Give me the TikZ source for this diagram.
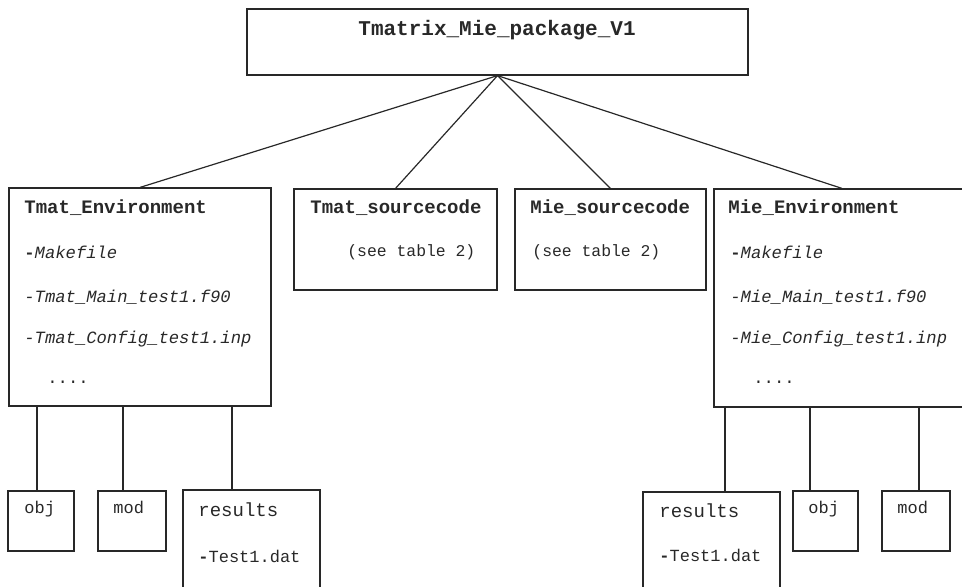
\documentclass[tikz,border=0pt]{standalone}
\usepackage{fontspec}
\setmonofont{Liberation Mono}
\usepackage{tikz}
\usetikzlibrary{fit}
\definecolor{ink}{RGB}{40,40,40}

\begin{document}
\begin{tikzpicture}[x=0.5pt,y=-0.5pt,
        box/.style={draw=ink,line width=0.6pt,inner sep=0pt},
        lbl/.style={anchor=base west,inner sep=0pt,text=ink,font=\ttfamily\fontsize{#1}{#1}\selectfont},
        hdr/.style={lbl=9.5,font=\ttfamily\bfseries\fontsize{9.5}{9.5}\selectfont},
        file/.style={lbl=8.6,font=\ttfamily\itshape\fontsize{8.6}{8.6}\selectfont},
        wire/.style={draw=ink,line width=0.6pt}]
        \clip (0,0) rectangle (962,586);
        % boxes
        \node[box,fit={(247,9) (748,75)}] (pkg) {};
        \node[box,fit={(9,188) (271,406)}] (tenv) {};
        \node[box,fit={(294,189) (497,290)}] (tsrc) {};
        \node[box,fit={(515,189) (706,290)}] (msrc) {};
        \node[box,fit={(714,189) (970,407)}] (menv) {};
        \node[box,fit={(8,491) (74,551)}] (tobj) {};
        \node[box,fit={(98,491) (166,551)}] (tmod) {};
        \node[box,fit={(183,490) (320,620)}] (tres) {};
        \node[box,fit={(643,492) (780,620)}] (mres) {};
        \node[box,fit={(793,491) (858,551)}] (mobj) {};
        \node[box,fit={(882,491) (950,551)}] (mmod) {};
        % texts
        \node[lbl=10.5,font=\ttfamily\bfseries\fontsize{10.5}{10.5}\selectfont] (pkgT) at (358,35) {Tmatrix\_Mie\_package\_V1};
        \node[hdr] (tenvT) at (24,213) {Tmat\_Environment};
        \node[file] (tenvA) at (24,258) {\upshape\bfseries-\mdseries\itshape Makefile};
        \node[file] (tenvB) at (24,302) {-Tmat\_Main\_test1.f90};
        \node[file] (tenvC) at (24,343) {-Tmat\_Config\_test1.inp};
        \node[lbl=8.6] (tenvD) at (47,383) {....};
        \node[hdr] (tsrcT) at (310,213) {Tmat\_sourcecode};
        \node[lbl=8.2] (tsrcA) at (347,256) {(see table 2)};
        \node[hdr] (msrcT) at (530,213) {Mie\_sourcecode};
        \node[lbl=8.2] (msrcA) at (532,256) {(see table 2)};
        \node[hdr] (menvT) at (728,213) {Mie\_Environment};
        \node[file] (menvA) at (730,258) {\upshape\bfseries-\mdseries\itshape Makefile};
        \node[file] (menvB) at (730,302) {-Mie\_Main\_test1.f90};
        \node[file] (menvC) at (730,343) {-Mie\_Config\_test1.inp};
        \node[lbl=8.6] (menvD) at (753,383) {....};
        \node[lbl=8.5] (tobjT) at (24,513) {obj};
        \node[lbl=8.5] (tmodT) at (113,513) {mod};
        \node[lbl=9.5] (tresT) at (198,516) {results};
        \node[lbl=8.5] (tresA) at (198,562) {\bfseries-\mdseries Test1.dat};
        \node[lbl=9.5] (mresT) at (659,517) {results};
        \node[lbl=8.5] (mresA) at (659,561) {\bfseries-\mdseries Test1.dat};
        \node[lbl=8.5] (mobjT) at (808,513) {obj};
        \node[lbl=8.5] (mmodT) at (897,513) {mod};
        % connectors
        \draw[wire] (pkg.south) -- (tenv.north);
        \draw[wire] (pkg.south) -- (tsrc.north);
        \draw[wire] (pkg.south) -- (msrc.north);
        \draw[wire] (pkg.south) -- (menv.north);
        \coordinate (t1) at (37,406);
        \coordinate (t2) at (123,406);
        \coordinate (t3) at (232,406);
        \coordinate (m1) at (725,408);
        \coordinate (m2) at (810,408);
        \coordinate (m3) at (919,408);
        \draw[wire] (t1) -- (t1 |- tobj.north);
        \draw[wire] (t2) -- (t2 |- tmod.north);
        \draw[wire] (t3) -- (t3 |- tres.north);
        \draw[wire] (m1) -- (m1 |- mres.north);
        \draw[wire] (m2) -- (m2 |- mobj.north);
        \draw[wire] (m3) -- (m3 |- mmod.north);
    \end{tikzpicture}
\end{document}
